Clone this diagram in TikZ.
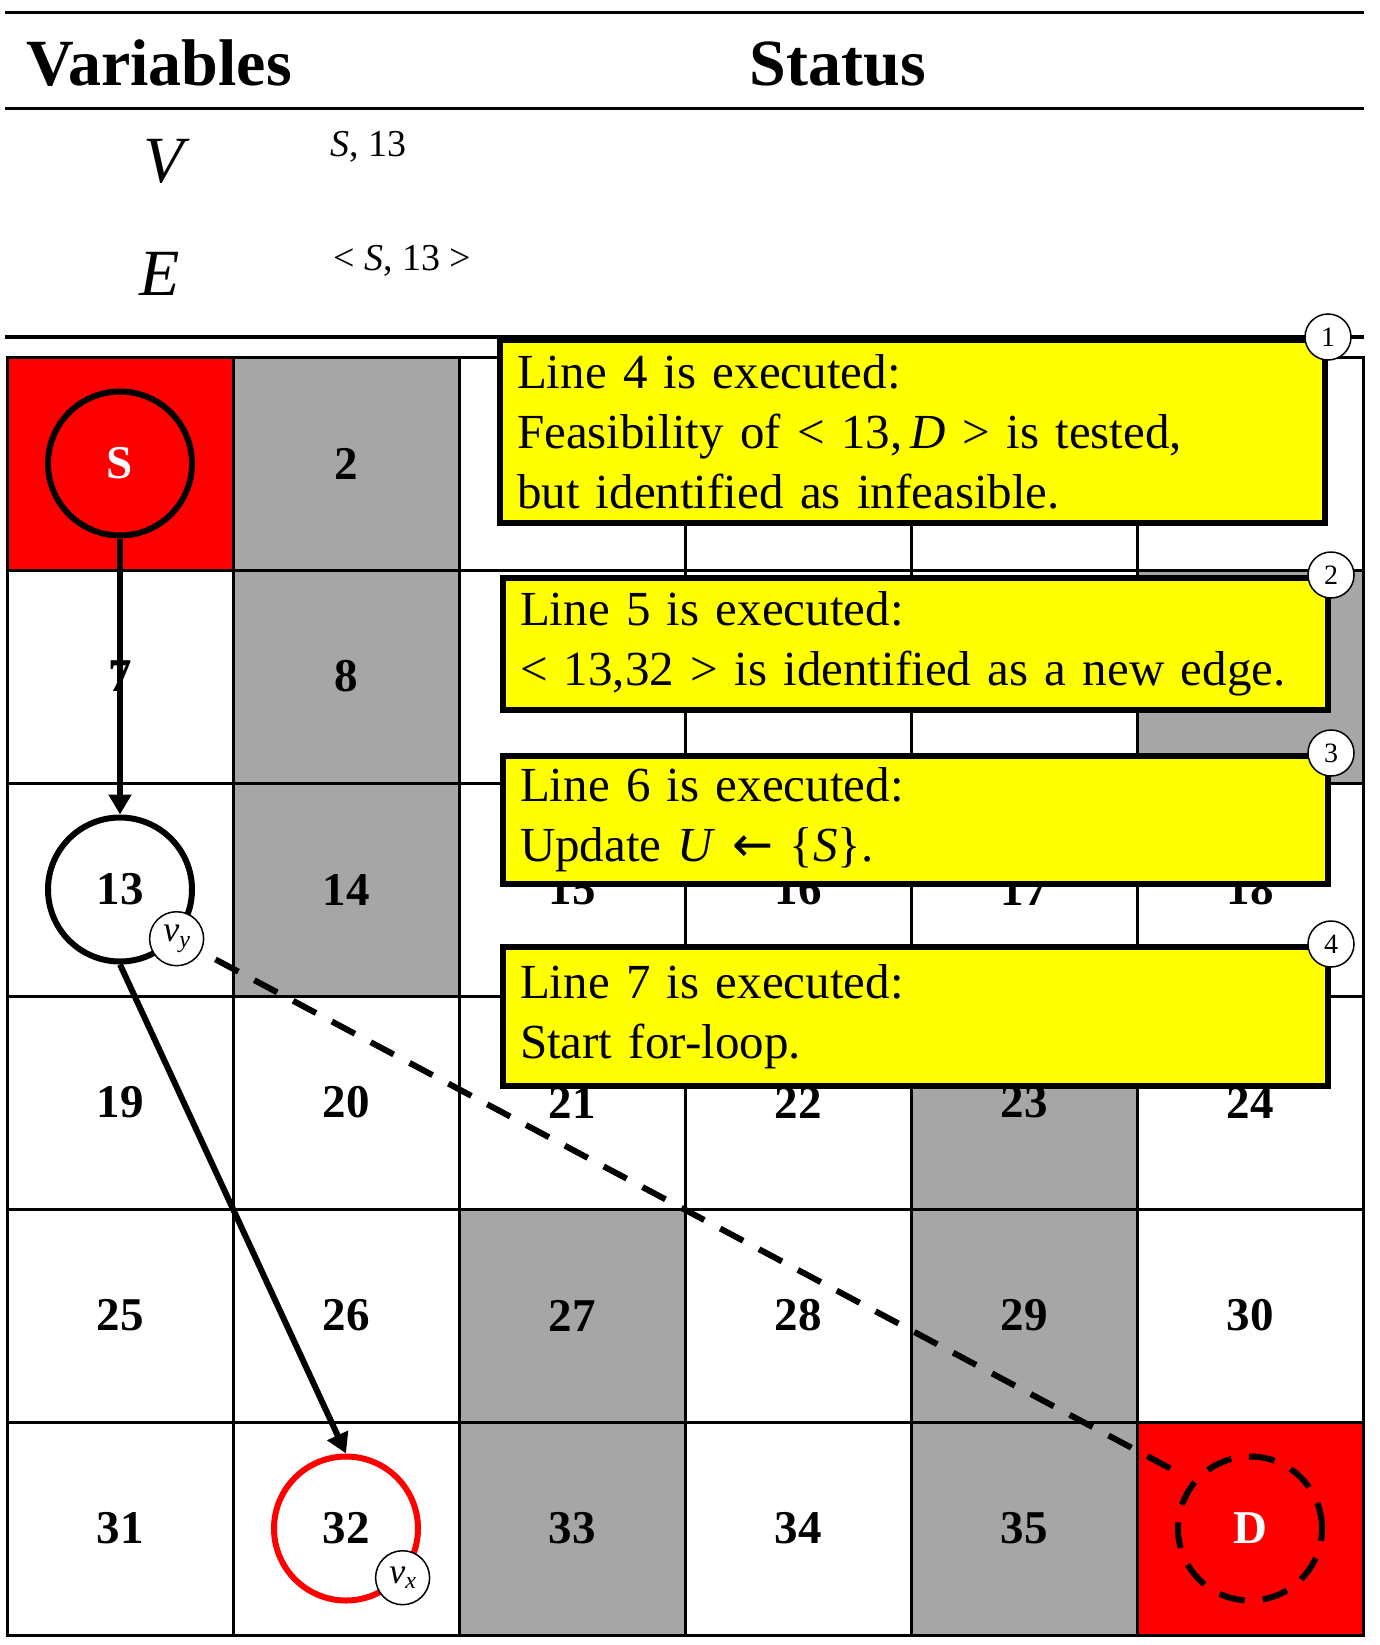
\documentclass[tikz,border=0pt]{standalone}
\usepackage{fontspec}
\setmainfont{Liberation Serif}
\newfontfamily\symfnt{DejaVu Sans}
\usetikzlibrary{arrows.meta}
\definecolor{cred}{HTML}{FF0000}
\definecolor{cgray}{HTML}{A6A6A6}
\definecolor{cyel}{HTML}{FFFF00}
\newcommand{\vsub}[1]{\textit{v}\raisebox{-0.35ex}{\fontsize{24}{26}\selectfont\textit{#1}}}

\begin{document}
\begin{tikzpicture}[
  x=1pt, y=-1pt,
  >={Triangle[length=20pt, width=22pt]},
  txt/.style={inner sep=0pt},
  hrule/.style={line width=3pt},
  cell/.style={draw, line width=3pt, minimum width=226pt, minimum height=213pt,
               inner sep=0pt, font=\fontsize{47}{56}\selectfont\bfseries},
  free/.style={cell, fill=white},
  blocked/.style={cell, fill=cgray},
  term/.style={cell, fill=cred, text=white},
  vert/.style={circle, draw, line width=6pt, minimum size=144pt, inner sep=0pt},
  tag/.style={circle, draw, fill=white, line width=1.5pt, minimum size=54pt,
              inner sep=0pt, font=\fontsize{36}{38}\selectfont},
  callout/.style={draw, line width=6pt, fill=cyel, anchor=north west,
                  text width=791pt, align=left, inner xsep=17pt, inner ysep=0pt,
                  font=\fontsize{49}{60}\selectfont},
  badge/.style={circle, draw, fill=white, line width=1.5pt, minimum size=46pt,
                inner sep=0pt, font=\fontsize{28}{30}\selectfont},
  link/.style={->, line width=6pt},
  ]
\useasboundingbox (0,0) rectangle (1380,1645);
% ---- header: variables and status
\draw[hrule] (5,12.6) -- (1364,12.6);
\node[txt, anchor=base, font=\fontsize{66}{70}\selectfont\bfseries] (hvar) at (159,86) {Variables};
\node[txt, anchor=base, font=\fontsize{66}{70}\selectfont\bfseries] (hstat) at (838,86) {Status};
\draw[hrule] (5,109) -- (1364,109);
\node[txt, anchor=base, font=\fontsize{66}{70}\selectfont\itshape] (lV) at (164,183) {V};
\node[txt, anchor=base west, font=\fontsize{38}{40}\selectfont] (sV) at (330,157) {\textit{S}, 13};
\node[txt, anchor=base, font=\fontsize{66}{70}\selectfont\itshape] (lE) at (160,295) {E};
\node[txt, anchor=base west, font=\fontsize{38}{40}\selectfont] (sE) at (333,270) {< \textit{S}, 13 >};
\draw[hrule, line width=4pt] (5,337) -- (1364,337);
% ---- grid of cells
\foreach \s/\t [count=\k] in {term/S,blocked/2,free/{},free/{},free/{},free/{},
                              free/7,blocked/8,free/{},free/{},free/{},blocked/{},
                              free/13,blocked/14,free/15,free/16,free/17,free/18,
                              free/19,free/20,free/21,free/22,blocked/23,free/24,
                              free/25,free/26,blocked/27,free/28,blocked/29,free/30,
                              free/31,free/32,blocked/33,free/34,blocked/35,term/D}
  \node[\s] (c\k) at ({120+226*mod(\k-1,6)}, {463.5+213*floor((\k-1)/6)}) {\t};
% ---- vertices
\node[vert] (vS) at (c1) {};
\node[vert] (v13) at (c13) {};
\node[vert, draw=cred] (v32) at (c32) {};
\node[vert, dash pattern=on 26pt off 18pt] (vD) at (c36) {};
% ---- edges
\draw[link] (vS) -- (v13);
\draw[link] (v13.south) -- (v32.north);
\draw[line width=6pt, dash pattern=on 26pt off 18pt, shorten >=18pt] (v13.-41) -- (vD.140);
\node[tag] (vy) at (v13.-41) {\vsub{y}};
\node[tag] (vx) at (v32.-41) {\vsub{x}};
% ---- callouts
\node[callout, minimum height=183pt] (k1) at (497,337)
  {Line 4 is executed:\\Feasibility of < 13,\,\textit{D} > is tested,\\but identified as infeasible.};
\node[callout, minimum height=132pt] (k2) at (500,575)
  {Line 5 is executed:\\< 13,32 > is identified as a new edge.};
\node[callout, minimum height=128pt] (k3) at (500,753)
  {Line 6 is executed:\\Update \textit{U} {\symfnt ←} \{\textit{S}\}.};
\node[callout, minimum height=139pt] (k4) at (500,944)
  {Line 7 is executed:\\Start for-loop.};
\node[badge] (b1) at (k1.north east) {1};
\node[badge] (b2) at (k2.north east) {2};
\node[badge] (b3) at (k3.north east) {3};
\node[badge] (b4) at (k4.north east) {4};
\end{tikzpicture}
\end{document}
